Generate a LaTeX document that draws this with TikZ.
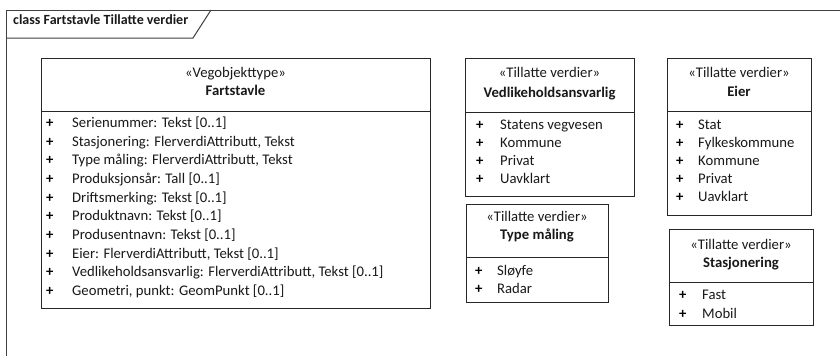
\documentclass[tikz,border=0pt]{standalone}
\usepackage{fontspec}
\setmainfont{Carlito}
\begin{document}
\begin{tikzpicture}[x=1pt,y=-1pt,
  frameline/.style={draw=black!75, line width=1pt},
  umlbox/.style={draw=black!85, line width=1.2pt, anchor=north west, inner sep=0pt, fill=white},
  divider/.style={draw=black!85, line width=1pt},
  txt/.style={font=\fontsize{14.7}{18}\selectfont, inner sep=0pt, anchor=mid west, text=black!90},
  plus/.style={font=\fontsize{14.7}{18}\selectfont\bfseries, inner sep=0pt, anchor=mid west, text=black},
  head/.style={font=\fontsize{14.7}{18}\selectfont, inner sep=0pt, anchor=mid, text=black!90},
  title/.style={font=\fontsize{14.7}{18}\selectfont\bfseries, inner sep=0pt, anchor=mid, text=black!90},
  framelabel/.style={font=\fontsize{14}{18}\selectfont\bfseries, inner sep=0pt, anchor=mid west, text=black!90}]
\useasboundingbox (0,0) rectangle (840,356);
\fill[white] (0,0) rectangle (840,356);
% frame
\coordinate (fbl) at (6,356);
\coordinate (ftl) at (6,10);
\coordinate (ftr) at (840,10);
\coordinate (tabr) at (211,10);
\coordinate (tabb) at (193,38);
\coordinate (tabl) at (6,38);
\draw[frameline] (fbl) -- (ftl) -- (ftr);
\draw[frameline] (tabr) -- (tabb) -- (tabl);
\node[framelabel] (flabel) at (13,22) {class Fartstavle Tillatte verdier};

% main class
\node[umlbox, minimum width=389pt, minimum height=250pt] (main) at (41,58) {};
\draw[divider] (main.north west |- 0,111) -- (main.north east |- 0,111);
\node[head] (mainst) at (235.5,75) {«Vegobjekttype»};
\node[title] (maint) at (235.5,93) {Fartstavle};
\foreach \i/\t in {0/{Serienummer: Tekst [0..1]},
  1/{Stasjonering: FlerverdiAttributt, Tekst},
  2/{Type måling: FlerverdiAttributt, Tekst},
  3/{Produksjonsår: Tall [0..1]},
  4/{Driftsmerking: Tekst [0..1]},
  5/{Produktnavn: Tekst [0..1]},
  6/{Produsentnavn: Tekst [0..1]},
  7/{Eier: FlerverdiAttributt, Tekst [0..1]},
  8/{Vedlikeholdsansvarlig: FlerverdiAttributt, Tekst [0..1]},
  9/{Geometri, punkt: GeomPunkt [0..1]}}{
  \node[plus] (mp\i) at (46,125+18.67*\i) {+};
  \node[txt] (ma\i) at (72,125+18.67*\i) {\t};
}

% Vedlikeholdsansvarlig
\node[umlbox, minimum width=169pt, minimum height=138pt] (ved) at (465,58) {};
\draw[divider] (ved.north west |- 0,112) -- (ved.north east |- 0,112);
\node[head] (vedst) at (549.5,75) {«Tillatte verdier»};
\node[title] (vedt) at (549.5,95) {Vedlikeholdsansvarlig};
\foreach \i/\t in {0/{Statens vegvesen},1/{Kommune},2/{Privat},3/{Uavklart}}{
  \node[plus] (vp\i) at (476,127+18*\i) {+};
  \node[txt] (va\i) at (500,127+18*\i) {\t};
}

% Eier
\node[umlbox, minimum width=144pt, minimum height=157pt] (eier) at (667,58) {};
\draw[divider] (eier.north west |- 0,111) -- (eier.north east |- 0,111);
\node[head] (eierst) at (739,75) {«Tillatte verdier»};
\node[title] (eiert) at (739,94) {Eier};
\foreach \i/\t in {0/{Stat},1/{Fylkeskommune},2/{Kommune},3/{Privat},4/{Uavklart}}{
  \node[plus] (ep\i) at (676,127+18*\i) {+};
  \node[txt] (ea\i) at (698,127+18*\i) {\t};
}

% Type maaling
\node[umlbox, minimum width=142pt, minimum height=98pt] (typ) at (466,204) {};
\draw[divider] (typ.north west |- 0,257) -- (typ.north east |- 0,257);
\node[head] (typst) at (537,219) {«Tillatte verdier»};
\node[title] (typt) at (537,237) {Type måling};
\foreach \i/\t in {0/{Sløyfe},1/{Radar}}{
  \node[plus] (tp\i) at (475,273+18*\i) {+};
  \node[txt] (ta\i) at (497,273+18*\i) {\t};
}

% Stasjonering
\node[umlbox, minimum width=144pt, minimum height=96pt] (sta) at (669,229) {};
\draw[divider] (sta.north west |- 0,282) -- (sta.north east |- 0,282);
\node[head] (stast) at (741,247) {«Tillatte verdier»};
\node[title] (stat) at (741,265) {Stasjonering};
\foreach \i/\t in {0/{Fast},1/{Mobil}}{
  \node[plus] (sp\i) at (679,297+19*\i) {+};
  \node[txt] (sa\i) at (702,297+19*\i) {\t};
}
\end{tikzpicture}
\end{document}
